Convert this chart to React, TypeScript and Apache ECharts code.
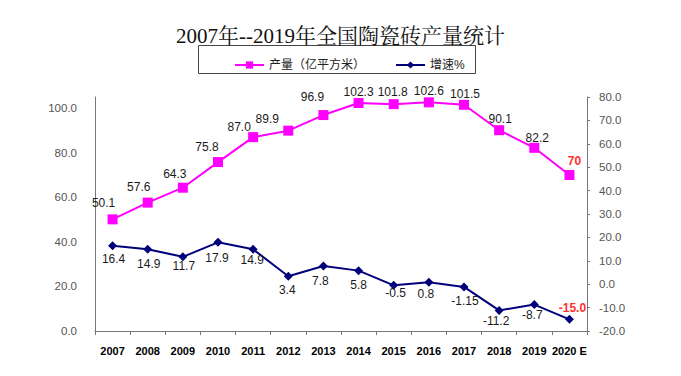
import React, { useEffect, useRef } from "react";
import * as echarts from "echarts";

const years = ["2007", "2008", "2009", "2010", "2011", "2012", "2013", "2014", "2015", "2016", "2017", "2018", "2019", "2020 E"];
const production = [50.1, 57.6, 64.3, 75.8, 87.0, 89.9, 96.9, 102.3, 101.8, 102.6, 101.5, 90.1, 82.2, 70];
const productionLabels = ["50.1", "57.6", "64.3", "75.8", "87.0", "89.9", "96.9", "102.3", "101.8", "102.6", "101.5", "90.1", "82.2", "70"];
const growth = [16.4, 14.9, 11.7, 17.9, 14.9, 3.4, 7.8, 5.8, -0.5, 0.8, -1.15, -11.2, -8.7, -15.0];
const growthLabels = ["16.4", "14.9", "11.7", "17.9", "14.9", "3.4", "7.8", "5.8", "-0.5", "0.8", "-1.15", "-11.2", "-8.7", "-15.0"];

const prodLabelOffsets = [[-9, -16], [-9, -16], [-8, -14], [-11, -15], [-14, -10], [-21, -12], [-11, -18], [0, -11], [-1, -12], [0, -11], [1, -11], [1, -11], [3, -10], [5, -14]];
const growthLabelOffsets = [[1, 13], [1, 15], [1, 9], [-1, 16], [-1, 11], [-1, 14], [-3, 15], [0, 14], [2, 8], [-3, 12], [1, 14], [-3, 11], [-2, 10], [3, -11]];

const FONT = "'Liberation Sans', Arial, 'Noto Sans CJK SC', sans-serif";

export default function App() {
  const ref = useRef<HTMLDivElement>(null);
  useEffect(() => {
    if (!ref.current) return;
    const chart = echarts.init(ref.current, undefined, { renderer: "svg" });
    const last = years.length - 1;
    const mkLabel = (text: string, off: number[], highlight: boolean) => ({
      show: true,
      position: "inside",
      offset: off,
      formatter: text,
      fontFamily: FONT,
      fontSize: 12,
      color: highlight ? "#ff3030" : "#1a1a1a",
      fontWeight: highlight ? "bold" : "normal",
    });
    chart.setOption({
      animation: false,
      backgroundColor: "#ffffff",
      title: {
        text: "2007年--2019年全国陶瓷砖产量统计",
        left: "center",
        top: 20,
        textStyle: {
          fontFamily: "'Liberation Serif', 'Noto Serif CJK SC', 'Noto Sans CJK SC', serif",
          fontSize: 21,
          fontWeight: "normal",
          color: "#111",
        },
      },
      graphic: [
        {
          type: "rect",
          shape: { x: 198.5, y: 45.5, width: 277, height: 28 },
          style: { fill: "none", stroke: "#444", lineWidth: 1 },
        },
      ],
      legend: {
        left: 229,
        top: 54,
        itemWidth: 29,
        itemHeight: 9,
        itemGap: 30,
        textStyle: { fontFamily: FONT, fontSize: 12, color: "#222" },
        data: ["产量（亿平方米）", "增速%"],
      },
      grid: { left: 95, right: 94, top: 97, bottom: 45 },
      xAxis: {
        type: "category",
        data: years,
        boundaryGap: true,
        axisLine: { lineStyle: { color: "#777" } },
        axisTick: { show: true, length: 4, lineStyle: { color: "#777" } },
        axisLabel: {
          fontFamily: FONT,
          fontSize: 11,
          fontWeight: "bold",
          color: "#000",
          margin: 14,
          interval: 0,
        },
      },
      yAxis: [
        {
          type: "value",
          min: 0,
          max: 105,
          interval: 20,
          position: "left",
          splitLine: { show: false },
          axisLine: { show: true, lineStyle: { color: "#777" } },
          axisTick: { show: false },
          axisLabel: {
            showMaxLabel: false,
            fontFamily: FONT,
            fontSize: 11.5,
            color: "#555",
            margin: 18,
            formatter: (v: number) => v.toFixed(1),
          },
        },
        {
          type: "value",
          min: -20,
          max: 80,
          interval: 10,
          position: "right",
          splitLine: { show: false },
          axisLine: { show: true, lineStyle: { color: "#777" } },
          axisTick: { show: true, length: 3, lineStyle: { color: "#777" } },
          axisLabel: {
            fontFamily: FONT,
            fontSize: 11.5,
            color: "#555",
            margin: 12,
            formatter: (v: number) => v.toFixed(1),
          },
        },
      ],
      series: [
        {
          name: "产量（亿平方米）",
          type: "line",
          yAxisIndex: 0,
          symbol: "rect",
          symbolSize: 10,
          itemStyle: { color: "#ff00ff" },
          lineStyle: { color: "#ff00ff", width: 2 },
          data: production.map((v, i) => ({
            value: v,
            label: mkLabel(productionLabels[i], prodLabelOffsets[i], i === last),
          })),
          z: 3,
        },
        {
          name: "增速%",
          type: "line",
          yAxisIndex: 1,
          symbol: "diamond",
          symbolSize: 9,
          itemStyle: { color: "#00007a" },
          lineStyle: { color: "#00007a", width: 2 },
          data: growth.map((v, i) => ({
            value: v,
            label: mkLabel(growthLabels[i], growthLabelOffsets[i], i === last),
          })),
          z: 3,
        },
      ],
    });
    return () => chart.dispose();
  }, []);
  return (
    <div
      ref={ref}
      style={{ position: "absolute", left: 0, top: 0, width: 681, height: 376, background: "#fff" }}
    />
  );
}
